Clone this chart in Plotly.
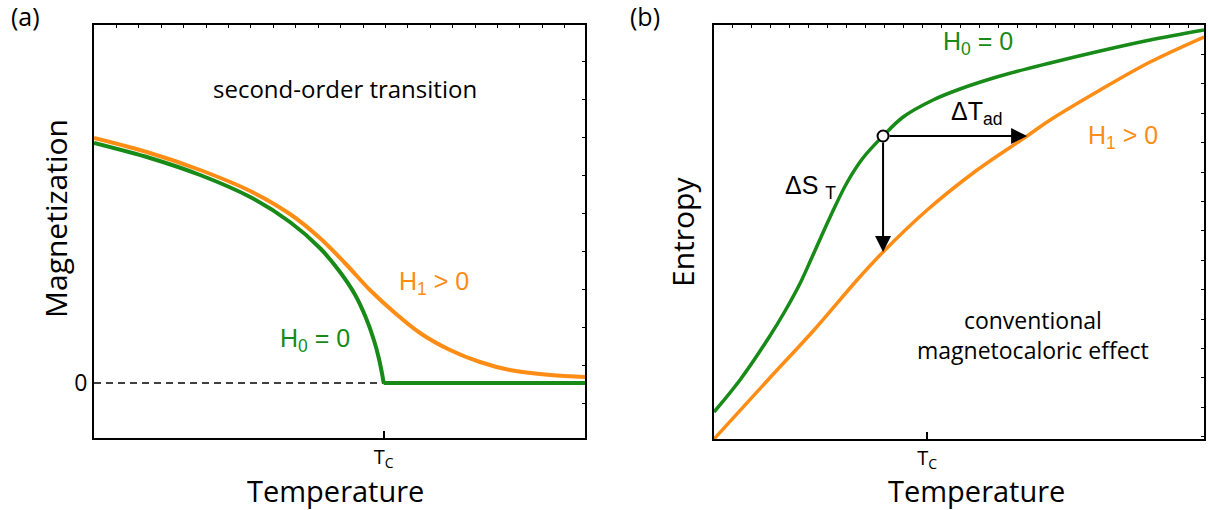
import plotly.graph_objects as go

# ---------------- data ----------------
# (a) magnetization vs temperature, second-order transition
t_c_a = 5.9
temp_a_h0 = [0, 1.14, 2.16, 3.18, 3.99, 4.60, 5.01, 5.32, 5.54, 5.70, 5.80, 5.86, 5.90]
mag_h0 = [2.40, 2.25, 2.08, 1.86, 1.61, 1.35, 1.11, 0.88, 0.65, 0.43, 0.25, 0.11, 0.0]
temp_a_flat = [5.90, 10.0]
mag_flat = [0.0, 0.0]
temp_a_h1 = [0, 1.14, 2.16, 3.18, 3.99, 4.60, 5.11, 5.62, 6.13, 6.64, 7.25, 7.86, 8.47, 9.29, 10.0]
mag_h1 = [2.45, 2.30, 2.13, 1.92, 1.69, 1.45, 1.20, 0.93, 0.70, 0.50, 0.33, 0.21, 0.13, 0.08, 0.06]
zero_x = [0, t_c_a]
zero_y = [0, 0]

# (b) entropy vs temperature, conventional magnetocaloric effect
t_c_b = 4.35
temp_b_h0 = [0, 0.53, 1.14, 1.45, 1.76, 2.02, 2.37, 2.71, 3.04, 3.45, 3.86, 4.47,
             5.02, 5.84, 6.86, 7.88, 8.90, 10.0]
ent_h0 = [0.27, 0.59, 1.03, 1.28, 1.56, 1.84, 2.22, 2.56, 2.81, 3.03, 3.22, 3.39,
          3.50, 3.63, 3.76, 3.88, 3.99, 4.09]
temp_b_h1 = [0, 1.10, 2.06, 2.92, 3.45, 4.35, 5.37, 6.39, 6.86, 7.88, 8.90, 10.0]
ent_h1 = [0.0, 0.59, 1.10, 1.59, 1.87, 2.29, 2.69, 3.03, 3.19, 3.49, 3.77, 4.02]

# starting state on H0 = 0 curve and its two end states on H1 > 0 curve
t_start, s_start = 3.45, 3.03
s_isothermal = 1.87      # H1 curve at t_start
t_adiabatic = 6.39       # H1 curve at s_start

GREEN = "#178a17"
ORANGE = "#ff8c14"
MAIN_FONT = "Open Sans"
SYM_FONT = "Liberation Sans"

fig = go.Figure()

# panel (a)
fig.add_trace(go.Scatter(x=zero_x, y=zero_y, mode="lines",
                         line=dict(color="black", width=1.5, dash="7px,5px"),
                         xaxis="x", yaxis="y", hoverinfo="skip"))
fig.add_trace(go.Scatter(x=temp_a_h1, y=mag_h1, mode="lines",
                         line=dict(color=ORANGE, width=4, shape="spline", smoothing=1),
                         xaxis="x", yaxis="y"))
fig.add_trace(go.Scatter(x=temp_a_h0, y=mag_h0, mode="lines",
                         line=dict(color=GREEN, width=4, shape="spline", smoothing=0.8),
                         xaxis="x", yaxis="y"))
fig.add_trace(go.Scatter(x=temp_a_flat, y=mag_flat, mode="lines",
                         line=dict(color=GREEN, width=4),
                         xaxis="x", yaxis="y"))

# panel (b)
fig.add_trace(go.Scatter(x=temp_b_h1, y=ent_h1, mode="lines",
                         line=dict(color=ORANGE, width=3.5, shape="spline", smoothing=1),
                         xaxis="x2", yaxis="y2"))
fig.add_trace(go.Scatter(x=temp_b_h0, y=ent_h0, mode="lines",
                         line=dict(color=GREEN, width=3.5, shape="spline", smoothing=1),
                         xaxis="x2", yaxis="y2"))

# empty traces so that the mirrored minor-tick axes are built
fig.add_trace(go.Scatter(x=[], y=[], xaxis="x3", yaxis="y3", hoverinfo="skip"))
fig.add_trace(go.Scatter(x=[], y=[], xaxis="x4", yaxis="y4", hoverinfo="skip"))

# arrows for ΔT_ad and ΔS_T
arrow_common = dict(showarrow=True, arrowhead=2, arrowsize=1.6, arrowwidth=2,
                    arrowcolor="black", xref="x2", yref="y2", axref="x2", ayref="y2",
                    text="", startstandoff=5)
fig.add_annotation(x=t_adiabatic, y=s_start, ax=t_start, ay=s_start, **arrow_common)
fig.add_annotation(x=t_start, y=s_isothermal, ax=t_start, ay=s_start, **arrow_common)

fig.add_trace(go.Scatter(x=[t_start], y=[s_start], mode="markers",
                         marker=dict(size=11, color="white", line=dict(color="black", width=2)),
                         xaxis="x2", yaxis="y2"))

W, H = 1208, 510
def px_x(p):
    return p / W
def px_y(p):
    return 1 - p / H

frame = dict(showline=True, linecolor="black", linewidth=2, mirror=True,
             showgrid=False, zeroline=False)
minor = dict(showline=False, showgrid=False, zeroline=False, showticklabels=False,
             ticks="inside", ticklen=3, tickwidth=1, tickcolor="black", dtick=1)

fig.update_layout(
    width=W, height=H,
    margin=dict(l=0, r=0, t=0, b=0),
    paper_bgcolor="white", plot_bgcolor="white",
    showlegend=False,
    font=dict(family=MAIN_FONT, color="black"),
    xaxis=dict(domain=[px_x(94), px_x(585)], range=[0, 10], anchor="y",
               tickvals=[t_c_a], ticktext=["T<sub>C</sub>"], ticks="inside",
               ticklen=7, tickwidth=1.5, tickcolor="black",
               tickfont=dict(size=20, family=MAIN_FONT), **frame),
    yaxis=dict(domain=[px_y(438), px_y(25)], range=[-0.55, 3.58], anchor="x",
               tickvals=[0], ticktext=["0"], ticks="",
               tickfont=dict(size=23, family=MAIN_FONT), **frame),
    xaxis2=dict(domain=[px_x(714), px_x(1204)], range=[0, 10], anchor="y2",
                tickvals=[t_c_b], ticktext=["T<sub>C</sub>"], ticks="inside",
                ticklen=7, tickwidth=1.5, tickcolor="black",
                tickfont=dict(size=20, family=MAIN_FONT), **frame),
    yaxis2=dict(domain=[px_y(439), px_y(25)], range=[0, 4.14], anchor="x2",
                showticklabels=False, ticks="", **frame),
    xaxis3=dict(overlaying="x", side="top", anchor="y3", range=[0, 21.9], tick0=0, **minor),
    yaxis3=dict(overlaying="y", side="right", anchor="x3", range=[0, 10.87], tick0=0.92, **minor),
    xaxis4=dict(overlaying="x2", side="top", anchor="y4", range=[0, 25.8], tick0=0, **minor),
    yaxis4=dict(overlaying="y2", side="right", anchor="x4", range=[0, 14.08], tick0=0.08, **minor),
)

def paper_text(text, x, y, size, angle=0, family=MAIN_FONT, color="black"):
    fig.add_annotation(text=text, x=px_x(x), y=px_y(y), xref="paper", yref="paper",
                       showarrow=False, textangle=angle, xanchor="center", yanchor="middle",
                       font=dict(size=size, family=family, color=color))

def data_text(text, x, y, axes, size, family=MAIN_FONT, color="black"):
    fig.add_annotation(text=text, x=x, y=y, xref=axes[0], yref=axes[1],
                       showarrow=False, xanchor="center", yanchor="middle",
                       font=dict(size=size, family=family, color=color))

# panel labels and axis titles
paper_text("(a)", 25, 16, 25)
paper_text("(b)", 645, 16, 25)
paper_text("Magnetization", 55, 218, 30, angle=-90)
paper_text("Entropy", 683, 232, 30, angle=-90)
paper_text("Temperature", 335, 490, 29)
paper_text("Temperature", 976, 490, 29)

# panel (a) labels
data_text("second-order transition", 5.11, 2.95, ("x", "y"), 24)
data_text("H<sub>1</sub> > 0", 6.92, 1.00, ("x", "y"), 25, SYM_FONT, ORANGE)
data_text("H<sub>0</sub> = 0", 4.50, 0.43, ("x", "y"), 25, SYM_FONT, GREEN)

# panel (b) labels
data_text("H<sub>0</sub> = 0", 5.39, 3.96, ("x2", "y2"), 25, SYM_FONT, GREEN)
data_text("H<sub>1</sub> > 0", 8.35, 3.02, ("x2", "y2"), 25, SYM_FONT, ORANGE)
data_text("ΔT<sub>ad</sub>", 5.35, 3.26, ("x2", "y2"), 25, SYM_FONT)
data_text("ΔS <sub>T</sub>", 1.96, 2.52, ("x2", "y2"), 25, SYM_FONT)
data_text("conventional<br>magnetocaloric effect", 6.51, 1.04, ("x2", "y2"), 23)

fig.write_html("out.html")
